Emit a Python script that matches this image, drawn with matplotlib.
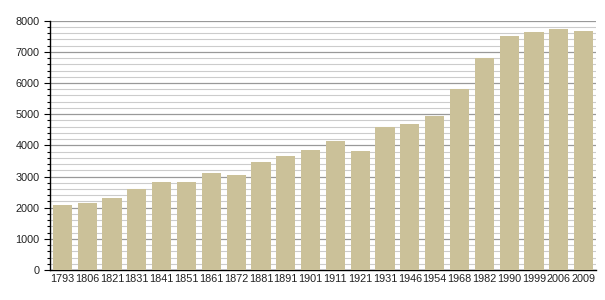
import matplotlib
matplotlib.use("Agg")
import matplotlib.pyplot as plt
from matplotlib.ticker import MultipleLocator

years = ["1793", "1806", "1821", "1831", "1841", "1851", "1861", "1872", "1881", "1891",
         "1901", "1911", "1921", "1931", "1946", "1954", "1968", "1982", "1990", "1999",
         "2006", "2009"]
population = [2070, 2162, 2322, 2602, 2837, 2837, 3126, 3062, 3470, 3672,
              3855, 4144, 3823, 4594, 4690, 4957, 5814, 6810, 7495, 7645,
              7742, 7678]

plt.rcParams['font.family'] = ['Liberation Sans', 'DejaVu Sans']

fig = plt.figure(figsize=(6.05, 3.0), dpi=100)
ax = fig.add_axes([50/605, 30/300, 546/605, 249.3/300])

x = list(range(len(years)))
ax.bar(x, population, width=0.77, color='#cbc199', zorder=3)

ax.set_xlim(-0.5, len(years) - 0.5)
ax.set_ylim(0, 8000)
ax.set_xticks(x)
ax.set_xticklabels(years, fontsize=7.8, color='#222222')
ax.yaxis.set_major_locator(MultipleLocator(1000))
ax.yaxis.set_minor_locator(MultipleLocator(200))
ax.tick_params(axis='y', which='major', labelsize=7.8, length=4.5, direction='out', width=0.8,
               labelcolor='#222222', pad=3)
ax.tick_params(axis='y', which='minor', length=2.5, direction='out', width=0.8)
ax.tick_params(axis='x', length=0, pad=3)

ax.grid(axis='y', which='minor', color='#cccccc', linewidth=0.8, zorder=0)
ax.grid(axis='y', which='major', color='#999999', linewidth=0.9, zorder=0)

for s in ['top', 'right']:
    ax.spines[s].set_visible(False)
ax.spines['left'].set_linewidth(1.0)
ax.spines['bottom'].set_linewidth(1.0)
ax.set_axisbelow(True)

fig.savefig("out.png", dpi=100)
